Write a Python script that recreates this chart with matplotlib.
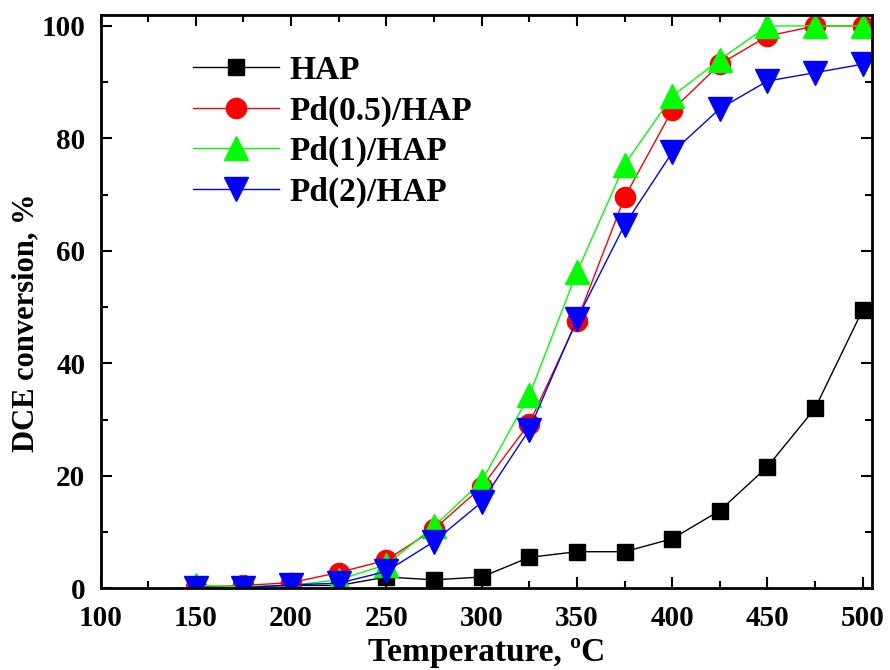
import matplotlib
matplotlib.use('Agg')
from matplotlib import pyplot as plt
from matplotlib.ticker import MultipleLocator
import numpy as np

plt.rcParams['font.family'] = ['Liberation Serif', 'DejaVu Serif']
plt.rcParams['font.weight'] = 'bold'

# temperatures, degC
temp = [150, 175, 200, 225, 250, 275, 300, 325, 350, 375, 400, 425, 450, 475, 500]

# DCE conversion, %
hap = [0.3, 0.2, 0.5, 0.5, 2.0, 1.5, 2.0, 5.5, 6.5, 6.5, 8.8, 13.8, 21.6, 32.0, 49.5]
pd05 = [0.2, 0.5, 1.0, 2.8, 5.0, 10.5, 18.0, 29.3, 47.5, 69.5, 85.0, 93.2, 98.2, 100, 100]
pd1 = [0.5, 0.3, 0.5, 1.5, 4.2, 11.0, 19.0, 34.3, 56.2, 75.3, 87.5, 94.0, 100, 100, 100]
pd2 = [0.1, 0.1, 0.6, 0.9, 3.0, 8.3, 15.3, 28.2, 47.8, 64.6, 77.5, 85.3, 90.2, 91.7, 93.2]

labels = ['HAP', 'Pd(0.5)/HAP', 'Pd(1)/HAP', 'Pd(2)/HAP']

fig = plt.figure(figsize=(8.9, 6.7), dpi=100)
ax = fig.add_axes([0.113, 0.122, 0.867, 0.856])

ax.plot(temp, hap, color='black', marker='s', ms=12, lw=1, label=labels[0])
ax.plot(temp, pd05, color='red', marker='o', ms=14.5, lw=1, label=labels[1])
ax.plot(temp, pd1, color='#00ff00', marker='^', ms=17, lw=1, label=labels[2])
ax.plot(temp, pd2, color='blue', marker='v', ms=17, lw=1, label=labels[3])

ax.set_xlim(100, 505)
ax.set_ylim(0, 102)
ax.xaxis.set_major_locator(MultipleLocator(50))
ax.xaxis.set_minor_locator(MultipleLocator(25))
ax.yaxis.set_major_locator(MultipleLocator(20))
ax.yaxis.set_minor_locator(MultipleLocator(10))
ax.tick_params(which='both', direction='in', top=True, right=True, width=1.5)
ax.tick_params(which='major', length=8, labelsize=21)
ax.tick_params(axis='x', which='major', pad=12)
ax.tick_params(axis='y', which='major', pad=11)
ax.tick_params(which='minor', length=5)
for s in ax.spines.values():
    s.set_linewidth(2)

ax.set_xlabel('Temperature, ºC', fontsize=24, fontweight='bold', labelpad=4)
ax.set_ylabel('DCE conversion, %', fontsize=22, fontweight='bold')
ax.yaxis.set_label_coords(-0.078, 0.4625)

ax.legend(loc='upper left', bbox_to_anchor=(0.102, 0.953), frameon=False,
          fontsize=24, handlelength=2.6, handletextpad=0.3, labelspacing=0.28,
          borderaxespad=0)

fig.savefig('out.png', dpi=100)
